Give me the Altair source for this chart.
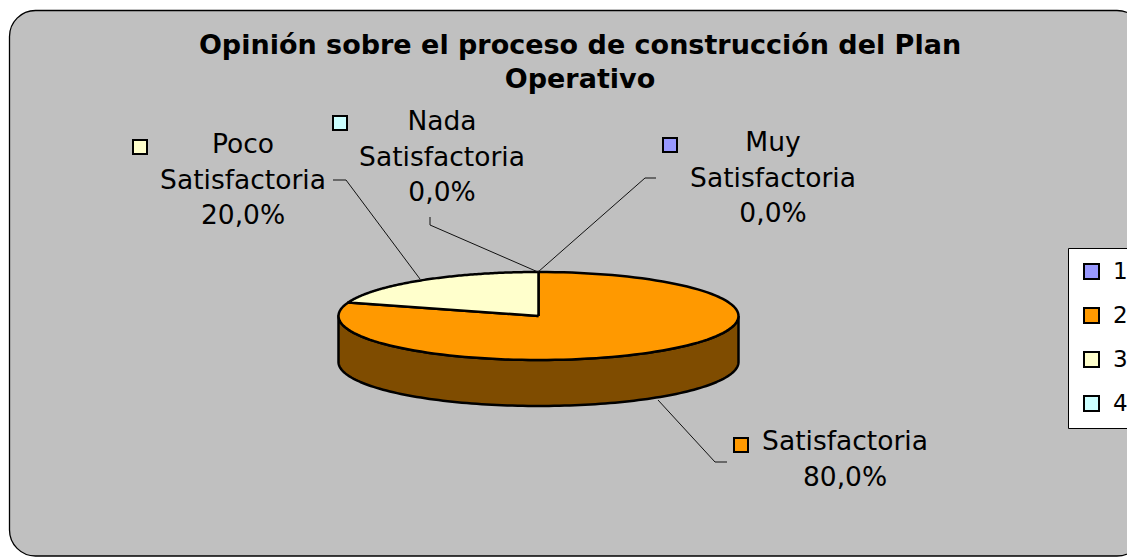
import altair as alt
import pandas as pd

# ---------------- data ----------------
categories = ["Muy Satisfactoria", "Satisfactoria", "Poco Satisfactoria", "Nada Satisfactoria"]
series_ids = ["1", "2", "3", "4"]
percent = [0.0, 80.0, 20.0, 0.0]
title_text = "Opinión sobre el proceso de construcción del Plan\nOperativo"

# ---------------- styles ----------------
top_colors = ["#9999FF", "#FF9900", "#FFFFCC", "#CCFFFF"]
side_colors = ["#4C4C80", "#7F4C00", "#80806A", "#6A8080"]
BG = "#C0C0C0"
FONT = "DejaVu Sans"

# ---------------- layout (page pixels) ----------------
W, H = 1119, 549
CX, CY, RX, RY, DEPTH = 538.5, 316.0, 200.0, 44.0, 46.0
N = 120
label_x = [773, 845, 243, 442]
label_y = [143, 442, 145, 122]
key_x = [670, 741, 140, 340]
key_y = [145, 445, 147, 123]
leader_paths = [
    [(538, 272), (645, 178), (656, 178)],
    [(658, 400), (715, 462), (727, 462)],
    [(420, 279), (346, 180), (333, 180)],
    [(538, 272), (430, 225), (430, 217)],
]

df = pd.DataFrame({
    "cat": categories, "sid": series_ids, "pct": percent, "ord": list(range(len(categories))),
    "side_color": side_colors, "lx": label_x, "ly": label_y, "kx": key_x, "ky": key_y,
})
lead_rows = []
for i, path in enumerate(leader_paths):
    for j, (x, y) in enumerate(path):
        lead_rows.append({"seg": i, "o": j, "px": x, "py": y})
lead_df = pd.DataFrame(lead_rows)

xs = alt.Scale(domain=[8, 8 + W])
ys = alt.Scale(domain=[8, 8 + H], reverse=True)
fs = alt.Scale(domain=series_ids, range=top_colors)

legend = alt.Legend(
    title=None, orient="none", legendX=1060, legendY=240,
    fillColor="white", strokeColor="black",
    padding=12, symbolType="square", symbolSize=225,
    symbolStrokeColor="black", symbolStrokeWidth=2, symbolOpacity=1,
    labelFont=FONT, labelFontSize=23, labelColor="black",
    rowPadding=20, labelOffset=10, cornerRadius=0,
)


def X(f):
    return alt.X(f, type="quantitative", scale=xs, axis=None)


def Y(f):
    return alt.Y(f, type="quantitative", scale=ys, axis=None)


bg = alt.Chart(alt.Data(values=[{"a": 1}])).mark_rect(
    fill=BG, stroke="black", strokeWidth=1.3, cornerRadius=26
).encode(x=alt.value(1.5), x2=alt.value(W + 16), y=alt.value(2.5), y2=alt.value(H - 1))

base = alt.Chart(df).transform_window(
    cum="sum(pct)", sort=[alt.SortField("ord")], frame=[None, 0]
)

# side wall of the 3D pie (visible front half only)
side = base.transform_calculate(
    s0="max(360*(datum.cum - datum.pct)/100, 90)"
).transform_calculate(
    s1="min(360*datum.cum/100, 270)"
).transform_filter("datum.s1 > datum.s0").transform_calculate(
    k=f"sequence(0, {2 * N + 3})"
).transform_flatten(["k"]).transform_calculate(
    bottom=f"datum.k > {N} && datum.k <= {2 * N + 1}"
).transform_calculate(
    j=f"datum.k <= {N} ? datum.k : (datum.k <= {2 * N + 1} ? {2 * N + 1} - datum.k : 0)"
).transform_calculate(
    a=f"PI/180*(datum.s0 + (datum.s1 - datum.s0)*datum.j/{N})"
).transform_calculate(
    px=f"{CX} + {RX}*sin(datum.a)"
).transform_calculate(
    py=f"{CY} - {RY}*cos(datum.a) + (datum.bottom ? {DEPTH} : 0)"
).mark_line(stroke="black", strokeWidth=2.5, strokeJoin="round").encode(
    x=X("px"), y=Y("py"), order="k:Q",
    fill=alt.Fill("side_color:N", scale=None), detail="sid:N",
)

# top faces of the slices
slices = base.transform_calculate(
    start="datum.cum - datum.pct"
).transform_filter("datum.pct > 0").transform_calculate(
    k=f"sequence(0, {N + 3})"
).transform_flatten(["k"]).transform_calculate(
    a=f"2*PI*(datum.start + datum.pct*(datum.k - 1)/{N})/100"
).transform_calculate(
    edge=f"datum.k >= 1 && datum.k <= {N + 1}"
).transform_calculate(
    px=f"datum.edge ? {CX} + {RX}*sin(datum.a) : {CX}"
).transform_calculate(
    py=f"datum.edge ? {CY} - {RY}*cos(datum.a) : {CY}"
).mark_line(stroke="black", strokeWidth=2.5, strokeJoin="round").encode(
    x=X("px"), y=Y("py"), order="k:Q",
    fill=alt.Fill("sid:N", scale=fs, legend=legend), detail="sid:N",
)

leaders = alt.Chart(lead_df).mark_line(stroke="#111111", strokeWidth=1).encode(
    x=X("px"), y=Y("py"), order="o:Q", detail="seg:N"
)

keys = alt.Chart(df).mark_square(
    size=196, stroke="black", strokeWidth=2, opacity=1, filled=True
).encode(
    x=X("kx"), y=Y("ky"),
    fill=alt.Fill("sid:N", scale=fs, legend=legend),
)

labels = base.transform_calculate(
    label="replace(datum.cat, ' ', '\\n') + '\\n' + replace(format(datum.pct, '.1f'), '.', ',') + '%'"
).mark_text(
    font=FONT, fontSize=26.5, lineHeight=35.5, lineBreak="\n",
    align="center", baseline="middle", color="black",
).encode(x=X("lx"), y=Y("ly"), text="label:N")

title = alt.Chart(alt.Data(values=[{"a": 1}])).mark_text(
    font=FONT, fontSize=27, fontWeight="bold", lineHeight=34,
    lineBreak="\n", align="center", baseline="middle", color="black",
).encode(x=alt.value(572), y=alt.value(38), text=alt.value(title_text))

chart = alt.layer(bg, side, slices, leaders, keys, labels, title).properties(
    width=W, height=H, padding=0, background="white",
    autosize=alt.AutoSizeParams(type="none"),
).configure_view(stroke=None).configure_legend(strokeWidth=1)

chart.save("out.html", embed_options={"renderer": "svg", "actions": False})
